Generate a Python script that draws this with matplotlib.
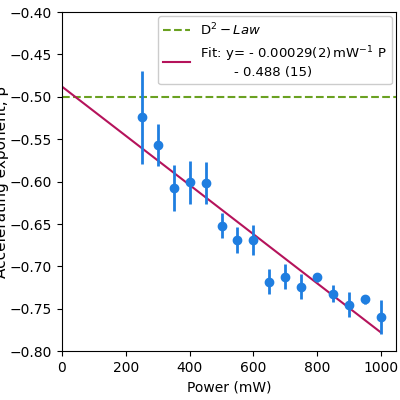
import matplotlib
matplotlib.use("Agg")
import matplotlib.pyplot as plt
import numpy as np

power = [250, 300, 350, 400, 450, 500, 550, 600, 650, 700, 750, 800, 850, 900, 950, 1000]
beta = [-0.524, -0.557, -0.608, -0.601, -0.602, -0.652, -0.669, -0.669, -0.718, -0.712,
        -0.724, -0.713, -0.732, -0.745, -0.739, -0.760]
beta_err = [0.055, 0.025, 0.027, 0.025, 0.025, 0.015, 0.015, 0.018, 0.015, 0.015,
            0.015, 0.005, 0.010, 0.015, 0.005, 0.020]
fit_slope = -0.00029
fit_icpt = -0.488
d2_law = -0.5

fig, ax = plt.subplots(figsize=(4, 4), dpi=100)
ax.axhline(d2_law, color="#6aa121", ls="--", lw=1.5, label=r"D$^2-$$\it{Law}$")
xf = np.array([0, 1000])
ax.plot(xf, fit_slope * xf + fit_icpt, color="#b5135b", lw=1.5,
        label="Fit: y= - 0.00029(2)$\\,$mW$^{-1}$ P\n        - 0.488 (15)")
ax.errorbar(power, beta, yerr=beta_err, fmt="o", color="#1f7ee0", ms=6, elinewidth=2, capsize=0)
ax.set_xlim(0, 1047)
ax.set_ylim(-0.80, -0.40)
ax.set_xticks([0, 200, 400, 600, 800, 1000])
ax.set_xlabel("Power (mW)")
ax.set_ylabel("Accelerating exponent, β", fontsize=11, labelpad=1)
ax.legend(loc="upper right", fontsize=9.5, framealpha=1, borderaxespad=0.3)
fig.subplots_adjust(left=0.155, right=0.99, top=0.97, bottom=0.122)
fig.savefig("out.png")
